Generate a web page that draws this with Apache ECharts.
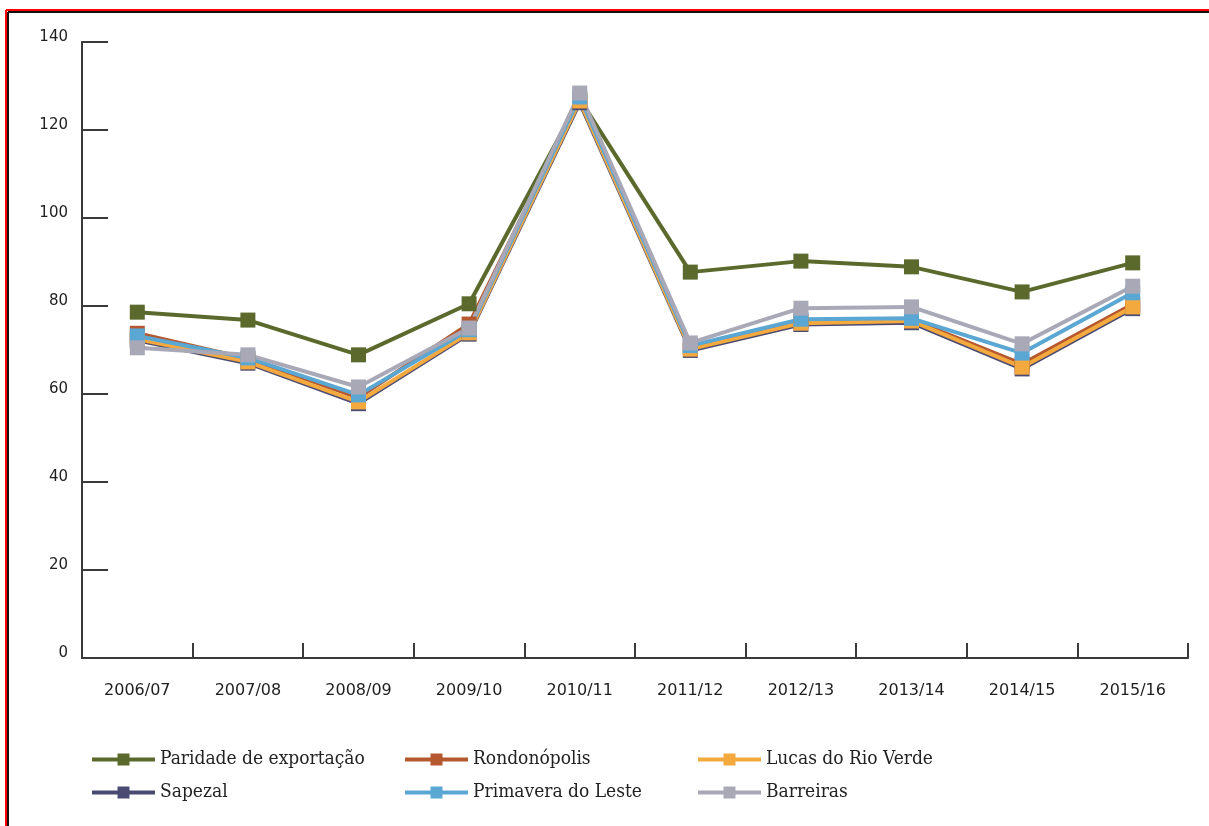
<!DOCTYPE html>
<html>
<head>
<meta charset="utf-8">
<script src="https://cdn.jsdelivr.net/npm/echarts@6/dist/echarts.min.js"></script>
<style>
  html, body { margin: 0; padding: 0; background: #fff; }
  #chart { width: 1209px; height: 826px; }
</style>
</head>
<body>
<div id="chart"></div>
<script>
// Safras (eixo X)
const categories = ['2006/07', '2007/08', '2008/09', '2009/10', '2010/11',
                    '2011/12', '2012/13', '2013/14', '2014/15', '2015/16'];

// Séries de preços
const paridade     = [78.6, 76.8, 68.9, 80.5, 127.0, 87.7, 90.2, 88.9, 83.2, 89.8];
const rondonopolis = [73.8, 68.0, 59.2, 75.9, 127.0, 70.8, 76.6, 76.9, 66.8, 80.4];
const lucas        = [72.5, 67.3, 58.2, 73.9, 126.6, 70.2, 76.1, 76.6, 66.1, 79.8];
const sapezal      = [72.2, 67.0, 57.8, 73.6, 126.2, 69.9, 75.8, 76.2, 65.7, 79.4];
const primavera    = [73.2, 68.2, 59.8, 74.6, 127.5, 71.0, 77.0, 77.2, 69.3, 83.0];
const barreiras    = [70.5, 68.9, 61.6, 75.0, 128.4, 71.6, 79.5, 79.8, 71.4, 84.5];

// Ticks do eixo Y
const yMin = 0, yMax = 140, yStep = 20;

// ordem de desenho (a última série fica por cima)
const seriesDefs = [
  { name: 'Paridade de exportação', data: paridade,     color: '#5b6a2c' },
  { name: 'Sapezal',                data: sapezal,      color: '#4b4a72' },
  { name: 'Rondonópolis',           data: rondonopolis, color: '#b5582f' },
  { name: 'Lucas do Rio Verde',     data: lucas,        color: '#f4a93f' },
  { name: 'Primavera do Leste',     data: primavera,    color: '#5ba7d3' },
  { name: 'Barreiras',              data: barreiras,    color: '#a9a8b7' }
];

const axisColor = '#3a3a3a';
const legendText = {
  fontFamily: '"DejaVu Serif Condensed", "DejaVu Serif", serif',
  fontSize: 19,
  color: '#222'
};

function legendCol(left, names) {
  return {
    orient: 'vertical',
    left: left,
    top: 745,
    itemWidth: 63,
    itemHeight: 15,
    itemGap: 14,
    data: names,
    textStyle: legendText,
    lineStyle: { width: 4 },
    selectedMode: false
  };
}

const chart = echarts.init(document.getElementById('chart'), null, { renderer: 'canvas' });

chart.setOption({
  backgroundColor: '#ffffff',
  animation: false,
  grid: { left: 82, right: 21, top: 42, bottom: 168, containLabel: false },
  legend: [
    legendCol(85,  ['Paridade de exportação', 'Sapezal']),
    legendCol(398, ['Rondonópolis', 'Primavera do Leste']),
    legendCol(691, ['Lucas do Rio Verde', 'Barreiras'])
  ],
  xAxis: {
    type: 'category',
    data: categories,
    boundaryGap: true,
    axisLine: { lineStyle: { color: axisColor, width: 2 } },
    axisTick: { show: true, inside: true, length: 15, interval: 0,
                lineStyle: { color: axisColor, width: 2 } },
    axisLabel: { color: '#1e1e1e', fontSize: 16, margin: 25,
                 fontFamily: '"DejaVu Sans", sans-serif' },
    splitLine: { show: false }
  },
  yAxis: {
    type: 'value',
    min: yMin, max: yMax, interval: yStep,
    axisLine: { show: true, lineStyle: { color: axisColor, width: 2 } },
    axisTick: { show: true, inside: true, length: 26,
                lineStyle: { color: axisColor, width: 2 } },
    axisLabel: {
      margin: 14,
      formatter: v => '{t|' + v + '}',
      rich: {
        t: { color: '#1e1e1e', fontSize: 15,
             fontFamily: '"DejaVu Sans", sans-serif',
             padding: [0, 0, 9, 0] }
      }
    },
    splitLine: { show: false }
  },
  series: seriesDefs.map(s => ({
    name: s.name,
    type: 'line',
    data: s.data,
    symbol: 'rect',
    symbolSize: 15,
    showAllSymbol: true,
    itemStyle: { color: s.color },
    lineStyle: { color: s.color, width: 4 },
    emphasis: { disabled: true }
  })),
  graphic: [
    // moldura
    { type: 'line', shape: { x1: 6, y1: 10, x2: 1209, y2: 10 },
      style: { stroke: '#ff0000', lineWidth: 2 } },
    { type: 'line', shape: { x1: 6, y1: 10, x2: 6, y2: 826 },
      style: { stroke: '#ff0000', lineWidth: 2 } },
    { type: 'line', shape: { x1: 8, y1: 12, x2: 1209, y2: 12 },
      style: { stroke: '#111111', lineWidth: 2 } },
    { type: 'line', shape: { x1: 8, y1: 12, x2: 8, y2: 826 },
      style: { stroke: '#111111', lineWidth: 2 } }
  ]
});
</script>
</body>
</html>
